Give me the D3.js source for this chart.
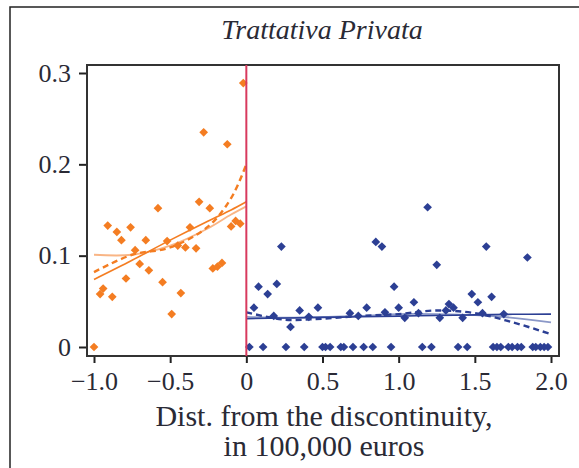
<!DOCTYPE html>
<html>
<head>
<meta charset="utf-8">
<script src="https://cdn.jsdelivr.net/npm/d3@7"></script>
<style>
    body { margin: 0; background: #fff; }
    svg { display: block; }
    text { font-family: "Liberation Serif", "Times New Roman", serif; fill: #2a2a35; }
</style>
</head>
<body>
<svg></svg>
<script>
const
    width = 579,
    height = 468,
    box = { left: 87, right: 559, top: 65, bottom: 356 }

// orange: left of the discontinuity
const leftX = [-1.0, -0.96, -0.94, -0.91, -0.88, -0.85, -0.82, -0.79, -0.76, -0.73, -0.70, -0.66, -0.64,
    -0.58, -0.55, -0.52, -0.49, -0.45, -0.43, -0.40, -0.37, -0.33, -0.31, -0.28, -0.24, -0.22, -0.19,
    -0.16, -0.125, -0.10, -0.07, -0.04, -0.02]
const leftY = [0.0, 0.058, 0.064, 0.133, 0.055, 0.126, 0.117, 0.075, 0.131, 0.106, 0.091, 0.117, 0.084,
    0.152, 0.071, 0.116, 0.036, 0.111, 0.059, 0.109, 0.131, 0.108, 0.159, 0.235, 0.152, 0.086, 0.088,
    0.092, 0.222, 0.132, 0.138, 0.135, 0.289]

// blue: right of the discontinuity
const rightX = [0.02, 0.05, 0.08, 0.11, 0.14, 0.18, 0.20, 0.23, 0.26, 0.29, 0.35, 0.38, 0.41, 0.47,
    0.50, 0.52, 0.55, 0.62, 0.64, 0.68, 0.70, 0.735, 0.77, 0.79, 0.83, 0.85, 0.89, 0.91, 0.95, 0.97,
    1.0, 1.04, 1.10, 1.13, 1.155, 1.19, 1.215, 1.25, 1.27, 1.31, 1.33, 1.36, 1.39, 1.42, 1.45, 1.48,
    1.52, 1.55, 1.575, 1.61, 1.62, 1.645, 1.67, 1.69, 1.72, 1.745, 1.78, 1.805, 1.845, 1.88, 1.90,
    1.93, 1.955, 1.98]
const rightY = [0.0, 0.043, 0.066, 0.0, 0.058, 0.034, 0.069, 0.110, 0.0, 0.022, 0.040, 0.0, 0.033, 0.043,
    0.0, 0.0, 0.0, 0.0, 0.0, 0.037, 0.0, 0.034, 0.0, 0.043, 0.0, 0.115, 0.110, 0.038, 0.0, 0.066,
    0.043, 0.032, 0.049, 0.037, 0.0, 0.153, 0.0, 0.090, 0.032, 0.040, 0.047, 0.043, 0.0, 0.032, 0.0, 0.058,
    0.049, 0.037, 0.110, 0.055, 0.0, 0.0, 0.0, 0.036, 0.0, 0.0, 0.0, 0.0, 0.098, 0.0, 0.0,
    0.0, 0.0, 0.0]

// fitted curves
const leftFitX = [-1.0, -0.75, -0.5, -0.25, -0.1, 0]
const leftLinear = [0.074, 0.095, 0.117, 0.138, 0.150, 0.159]
const leftPoly = [0.082, 0.101, 0.109, 0.132, 0.163, 0.200]
const leftLocal = [0.101, 0.101, 0.111, 0.130, 0.145, 0.154]

const rightFitX = [0, 0.25, 0.5, 0.75, 1.0, 1.25, 1.5, 1.75, 2.0]
const rightLinear = [0.031, 0.0317, 0.0324, 0.0331, 0.0338, 0.0345, 0.0352, 0.0358, 0.036]
const rightPoly = [0.038, 0.030, 0.031, 0.034, 0.036, 0.040, 0.037, 0.027, 0.014]
const rightLocal = [0.033, 0.032, 0.033, 0.034, 0.036, 0.036, 0.035, 0.032, 0.027]

const xTicks = [-1, -0.5, 0, 0.5, 1, 1.5, 2]
const yTicks = [0, 0.1, 0.2, 0.3]

const orange = "#f47d22", orangeLight = "#f9b585"
const blue = "#2c3f94", blueLight = "#8b98c8"

const x = d3.scaleLinear().domain([-1, 2]).range([94, 551])
const y = d3.scaleLinear().domain([0, 0.3]).range([347, 73])

const fmt = d => d === 0 ? "0" : d3.format(".1f")(d).replace("-", "\u2013")

const svg = d3.select("svg")
    .attr("width", width)
    .attr("height", height)

// outer frame
svg.append("path")
    .attr("d", `M10,${height} V7 H${width}`)
    .attr("fill", "none")
    .attr("stroke", "#222")
    .attr("stroke-width", 1.5)

svg.append("text")
    .attr("x", 322).attr("y", 39)
    .attr("text-anchor", "middle")
    .attr("font-style", "italic")
    .attr("font-size", 28)
    .text("Trattativa Privata")

svg.append("g")
    .attr("transform", `translate(0,${box.bottom})`)
    .call(d3.axisBottom(x).tickValues(xTicks).tickFormat(fmt).tickSize(7).tickSizeOuter(0))
    .call(g => g.select(".domain").remove())
    .call(g => g.selectAll("line").attr("stroke", "#222").attr("stroke-width", 2))
    .call(g => g.selectAll("text").attr("font-size", 26).attr("font-family", null).attr("fill", null).attr("dy", "0.72em").attr("y", 15))

svg.append("g")
    .attr("transform", `translate(${box.left},0)`)
    .call(d3.axisLeft(y).tickValues(yTicks).tickFormat(fmt).tickSize(8).tickSizeOuter(0))
    .call(g => g.select(".domain").remove())
    .call(g => g.selectAll("line").attr("stroke", "#222").attr("stroke-width", 2))
    .call(g => g.selectAll("text").attr("font-size", 26).attr("font-family", null).attr("fill", null).attr("x", -16))

svg.append("rect")
    .attr("x", box.left).attr("y", box.top)
    .attr("width", box.right - box.left).attr("height", box.bottom - box.top)
    .attr("fill", "none")
    .attr("stroke", "#333")
    .attr("stroke-width", 2)

const line = d3.line()
    .x(d => x(d[0]))
    .y(d => y(d[1]))
    .curve(d3.curveCatmullRom)

function fit(xs, ys, color, width, dash) {
    svg.append("path")
        .datum(xs.map((v, i) => [v, ys[i]]))
        .attr("d", line)
        .attr("fill", "none")
        .attr("stroke", color)
        .attr("stroke-width", width)
        .attr("stroke-dasharray", dash)
}

fit(leftFitX, leftLocal, orangeLight, 1.8, null)
fit(leftFitX, leftLinear, orange, 1.6, null)
fit(leftFitX, leftPoly, orange, 2.4, "6,4")
fit(rightFitX, rightLocal, blueLight, 1.8, null)
fit(rightFitX, rightLinear, blue, 1.6, null)
fit(rightFitX, rightPoly, blue, 2.4, "6,4")

const diamond = d3.symbol().type(d3.symbolSquare).size(38)

svg.append("g")
    .attr("fill", orange)
    .selectAll("path")
    .data(leftX.map((v, i) => [v, leftY[i]]))
    .join("path")
    .attr("transform", d => `translate(${x(d[0])},${y(d[1])}) rotate(45)`)
    .attr("d", diamond)

svg.append("g")
    .attr("fill", blue)
    .selectAll("path")
    .data(rightX.map((v, i) => [v, rightY[i]]))
    .join("path")
    .attr("transform", d => `translate(${x(d[0])},${y(d[1])}) rotate(45)`)
    .attr("d", diamond)

// discontinuity
svg.append("line")
    .attr("x1", x(0)).attr("x2", x(0))
    .attr("y1", box.top).attr("y2", box.bottom)
    .attr("stroke", "#d83a5e")
    .attr("stroke-width", 2)

const label = svg.append("text")
    .attr("text-anchor", "middle")
    .attr("font-size", 30)
label.append("tspan").attr("x", 324).attr("y", 426).text("Dist. from the discontinuity,")
label.append("tspan").attr("x", 324).attr("y", 456).text("in 100,000 euros")
</script>
</body>
</html>
